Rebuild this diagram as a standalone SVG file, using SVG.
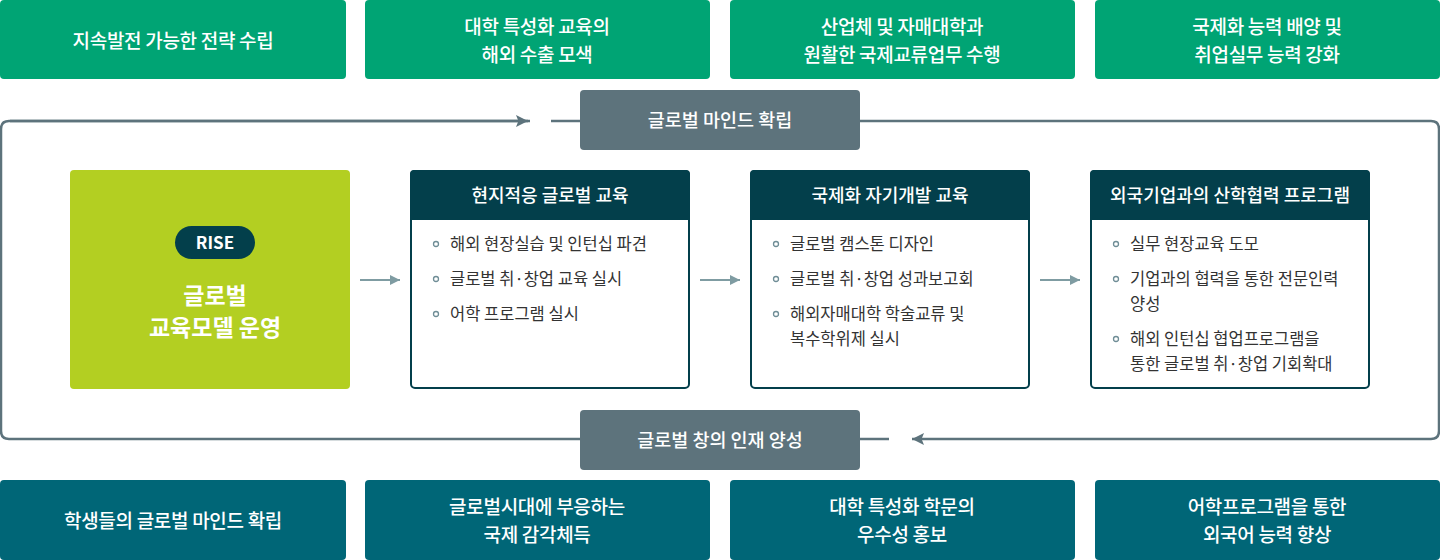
<svg xmlns="http://www.w3.org/2000/svg" width="1440" height="560" viewBox="0 0 1440 560">
<defs>
<style>
text{font-family:"Noto Sans CJK KR","Noto Sans",sans-serif;}
.top{fill:#00a474;}
.bot{fill:#006677;}
.lbl{fill:#5d737c;}
.wt{fill:#fff;font-size:19px;font-weight:500;text-anchor:middle;letter-spacing:-0.3px;}
.lt{fill:#fff;font-size:18.5px;font-weight:500;text-anchor:middle;}
.card{fill:#fff;stroke:#033f4b;stroke-width:2;}
.hdr{fill:#033f4b;}
.ht{fill:#fff;font-size:18px;font-weight:500;text-anchor:middle;}
.bt{fill:#333;font-size:16.5px;}
.dot{fill:none;stroke:#6f8d96;stroke-width:1.3;}
.loop{fill:none;stroke:#5d737c;stroke-width:2.5;}
.conn{stroke:#7f9ca2;stroke-width:2;fill:none;}
</style>
<marker id="ah" viewBox="0 0 10 10" refX="10" refY="5" markerWidth="10" markerHeight="10" markerUnits="userSpaceOnUse" orient="auto">
<path d="M0,0 L10,5 L0,10 Z" fill="#7f9ca2"/>
</marker>
<marker id="ah2" viewBox="0 0 10 10" refX="10" refY="5" markerWidth="12" markerHeight="12" markerUnits="userSpaceOnUse" orient="auto">
<path d="M0,0 L10,5 L0,10 L2,5 Z" fill="#5d737c"/>
</marker>
</defs>
<rect width="1440" height="560" fill="#fff"/>

<g id="connectors">
<path class="loop" d="M530,121 L9,121 Q1,121 1,129 L1,431 Q1,439 9,439 L580,439"/>
<path class="loop" d="M10,121 L528,121" marker-end="url(#ah2)"/>
<line class="loop" x1="551" y1="121" x2="580" y2="121"/>
<path class="loop" d="M860,121 L1431,121 Q1439,121 1439,129 L1439,431 Q1439,439 1431,439 L912,439" marker-end="url(#ah2)"/>
<line class="loop" x1="860" y1="439" x2="889" y2="439"/>
<line class="conn" x1="360" y1="280" x2="400" y2="280" marker-end="url(#ah)"/>
<line class="conn" x1="700" y1="280" x2="740" y2="280" marker-end="url(#ah)"/>
<line class="conn" x1="1040" y1="280" x2="1080" y2="280" marker-end="url(#ah)"/>
</g>

<g id="top1"><rect class="top" x="0" y="0" width="346" height="79" rx="4"/><text class="wt" x="173" y="47.5">지속발전 가능한 전략 수립</text></g>
<g id="top2"><rect class="top" x="365" y="0" width="345" height="79" rx="4"/><text class="wt" x="537" y="33.5">대학 특성화 교육의</text><text class="wt" x="537" y="61.5">해외 수출 모색</text></g>
<g id="top3"><rect class="top" x="730" y="0" width="345" height="79" rx="4"/><text class="wt" x="902" y="33.5">산업체 및 자매대학과</text><text class="wt" x="902" y="61.5">원활한 국제교류업무 수행</text></g>
<g id="top4"><rect class="top" x="1095" y="0" width="345" height="79" rx="4"/><text class="wt" x="1267" y="33.5">국제화 능력 배양 및</text><text class="wt" x="1267" y="61.5">취업실무 능력 강화</text></g>

<g id="label-top"><rect class="lbl" x="580" y="90" width="280" height="60" rx="4"/><text class="lt" x="720" y="126.5">글로벌 마인드 확립</text></g>
<g id="label-bottom"><rect class="lbl" x="580" y="410" width="280" height="60" rx="4"/><text class="lt" x="720" y="446.5">글로벌 창의 인재 양성</text></g>

<g id="rise">
<rect x="70" y="170" width="280" height="219" rx="4" fill="#b3cf22"/>
<rect x="175" y="226" width="80" height="33" rx="16.5" fill="#033f4b"/>
<text x="215" y="249" fill="#fff" font-size="17" font-weight="700" text-anchor="middle">RISE</text>
<text x="215" y="304" fill="#fff" font-size="23" font-weight="700" text-anchor="middle">글로벌</text>
<text x="215" y="336" fill="#fff" font-size="23" font-weight="700" text-anchor="middle">교육모델 운영</text>
</g>

<g id="card1">
<rect class="card" x="411" y="171" width="278" height="217" rx="4"/>
<path class="hdr" d="M414,170 L686,170 Q690,170 690,174 L690,220 L410,220 L410,174 Q410,170 414,170 Z"/>
<text class="ht" x="550" y="202">현지적응 글로벌 교육</text>
<circle class="dot" cx="436" cy="244" r="2.5"/><text class="bt" x="450" y="250">해외 현장실습 및 인턴십 파견</text>
<circle class="dot" cx="436" cy="279" r="2.5"/><text class="bt" x="450" y="285">글로벌 취·창업 교육 실시</text>
<circle class="dot" cx="436" cy="314" r="2.5"/><text class="bt" x="450" y="320">어학 프로그램 실시</text>
</g>

<g id="card2">
<rect class="card" x="751" y="171" width="278" height="217" rx="4"/>
<path class="hdr" d="M754,170 L1026,170 Q1030,170 1030,174 L1030,220 L750,220 L750,174 Q750,170 754,170 Z"/>
<text class="ht" x="890" y="202">국제화 자기개발 교육</text>
<circle class="dot" cx="776" cy="244" r="2.5"/><text class="bt" x="790" y="250">글로벌 캠스톤 디자인</text>
<circle class="dot" cx="776" cy="279" r="2.5"/><text class="bt" x="790" y="285">글로벌 취·창업 성과보고회</text>
<circle class="dot" cx="776" cy="314" r="2.5"/><text class="bt" x="790" y="320">해외자매대학 학술교류 및</text><text class="bt" x="790" y="345">복수학위제 실시</text>
</g>

<g id="card3">
<rect class="card" x="1091" y="171" width="278" height="217" rx="4"/>
<path class="hdr" d="M1094,170 L1366,170 Q1370,170 1370,174 L1370,220 L1090,220 L1090,174 Q1090,170 1094,170 Z"/>
<text class="ht" x="1230" y="202">외국기업과의 산학협력 프로그램</text>
<circle class="dot" cx="1116" cy="244" r="2.5"/><text class="bt" x="1130" y="250">실무 현장교육 도모</text>
<circle class="dot" cx="1116" cy="279" r="2.5"/><text class="bt" x="1130" y="285">기업과의 협력을 통한 전문인력</text><text class="bt" x="1130" y="310">양성</text>
<circle class="dot" cx="1116" cy="339" r="2.5"/><text class="bt" x="1130" y="345">해외 인턴십 협업프로그램을</text><text class="bt" x="1130" y="370">통한 글로벌 취·창업 기회확대</text>
</g>

<g id="bot1"><rect class="bot" x="0" y="480" width="346" height="80" rx="4"/><text class="wt" x="173" y="527.5">학생들의 글로벌 마인드 확립</text></g>
<g id="bot2"><rect class="bot" x="365" y="480" width="345" height="80" rx="4"/><text class="wt" x="537" y="513.5">글로벌시대에 부응하는</text><text class="wt" x="537" y="541.5">국제 감각체득</text></g>
<g id="bot3"><rect class="bot" x="730" y="480" width="345" height="80" rx="4"/><text class="wt" x="902" y="513.5">대학 특성화 학문의</text><text class="wt" x="902" y="541.5">우수성 홍보</text></g>
<g id="bot4"><rect class="bot" x="1095" y="480" width="345" height="80" rx="4"/><text class="wt" x="1267" y="513.5">어학프로그램을 통한</text><text class="wt" x="1267" y="541.5">외국어 능력 향상</text></g>
</svg>
